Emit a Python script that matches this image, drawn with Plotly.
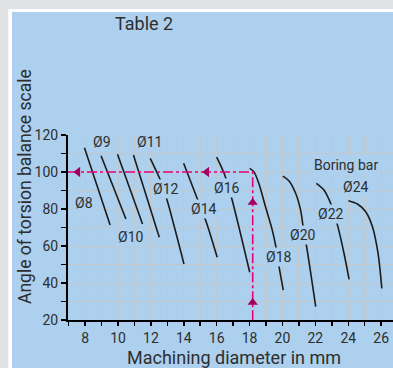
import plotly.graph_objects as go

# ---- data ----
d8_x = [7.96, 9.52]
d8_y = [113.1, 71.4]
d9_x = [8.97, 10.48]
d9_y = [108.8, 74.6]
d10_x = [9.97, 11.49]
d10_y = [109.6, 71.9]
d11_x = [10.94, 12.51]
d11_y = [109.2, 64.7]
d12_x = [11.96, 12.6, 13.0, 14.01]
d12_y = [107.4, 95.1, 84.3, 50.3]
d14_x = [13.99, 14.81, 15.36, 16.03]
d14_y = [104.7, 85.8, 73.1, 53.9]
d16_x = [16.0, 16.49, 16.94, 18.01]
d16_y = [108.0, 98.4, 84.9, 45.8]
d18_x = [18.01, 18.26, 18.56, 18.97, 19.38, 19.58, 19.82, 20.05]
d18_y = [102.0, 100.2, 93.9, 81.2, 68.6, 60.5, 47.4, 36.2]
d20_x = [20.02, 20.39, 20.80, 21.10, 21.24, 21.47, 21.75, 22.02]
d20_y = [97.8, 95.3, 88.5, 79.5, 71.4, 59.6, 43.4, 27.2]
d22_x = [22.06, 22.52, 22.97, 23.34, 23.74, 24.05]
d22_y = [93.9, 90.3, 82.2, 71.4, 56.1, 42.0]
d24_x = [24.01, 24.56, 25.06, 25.47, 25.81, 26.04]
d24_y = [84.5, 82.7, 78.5, 70.4, 56.1, 37.1]

label_text = ["Ø8", "Ø9", "Ø10", "Ø11", "Ø12", "Ø14", "Ø16", "Ø18", "Ø20", "Ø22", "Ø24", "Boring bar"]
label_x = [7.92, 9.0, 10.82, 11.89, 12.91, 15.23, 16.61, 19.79, 21.25, 22.94, 24.5, 23.89]
label_y = [83.4, 116.4, 65.0, 116.4, 90.6, 79.8, 91.4, 53.9, 66.0, 77.1, 92.1, 103.8]

guide_x = 18.19
guide_y = 100
arrow_left_x = [7.56, 15.40]
arrow_up_y = [83.5, 29.5]

x_range = [6.96, 26.72]
y_range = [20, 120]
x_tick_vals = [8, 10, 12, 14, 16, 18, 20, 22, 24, 26]
y_tick_vals = [20, 40, 60, 80, 100, 120]

BLUE = "#acd0ed"
GREY = "#e0e1e2"
GRID = "#c3c7ca"
MAG = "#e6007e"
ARROW = "#a3005e"
INK = "#1c1c1c"
TXT = "#2e2e2e"
FONT = "Roboto"

W, H = 393, 368
L, R, T, B = 68, 0, 135, 48
PW, PH = W - L - R, H - T - B


def px_x(px):
    return (px - L) / PW


def px_y(py):
    return (H - B - py) / PH


fig = go.Figure()

curves = [(d8_x, d8_y), (d9_x, d9_y), (d10_x, d10_y), (d11_x, d11_y),
          (d12_x, d12_y), (d14_x, d14_y), (d16_x, d16_y), (d18_x, d18_y),
          (d20_x, d20_y), (d22_x, d22_y), (d24_x, d24_y)]
for cx, cy in curves:
    fig.add_trace(go.Scatter(x=cx, y=cy, mode="lines",
                             line=dict(color=INK, width=1.6, shape="spline", smoothing=0.8),
                             hoverinfo="skip", showlegend=False))

# guide lines
fig.add_trace(go.Scatter(x=[x_range[0], guide_x, guide_x], y=[guide_y, guide_y, y_range[0]],
                         mode="lines", line=dict(color=MAG, width=1.6, dash="10px,3px,3px,3px"),
                         hoverinfo="skip", showlegend=False))
fig.add_trace(go.Scatter(x=arrow_left_x, y=[guide_y] * len(arrow_left_x), mode="markers",
                         marker=dict(symbol="triangle-left", size=9, color=ARROW, line=dict(width=0)),
                         hoverinfo="skip", showlegend=False))
fig.add_trace(go.Scatter(x=[guide_x] * len(arrow_up_y), y=arrow_up_y, mode="markers",
                         marker=dict(symbol="triangle-up", size=9, color=ARROW, line=dict(width=0)),
                         hoverinfo="skip", showlegend=False))

annotations = []
for t, x, y in zip(label_text, label_x, label_y):
    annotations.append(dict(x=x, y=y, xref="x", yref="y", text=t, showarrow=False,
                            font=dict(family=FONT, size=14, color=TXT),
                            bgcolor=BLUE, borderpad=1))

annotations += [
    dict(x=px_x(144), y=px_y(24), xref="paper", yref="paper", text="Table 2", showarrow=False,
         font=dict(family=FONT, size=18, color=TXT), xanchor="center", yanchor="middle"),
    dict(x=px_x(234), y=px_y(357), xref="paper", yref="paper", text="Machining diameter in mm",
         showarrow=False, font=dict(family=FONT, size=18, color=TXT), xanchor="center", yanchor="middle"),
    dict(x=px_x(25), y=px_y(187), xref="paper", yref="paper", text="Angle of torsion balance scale",
         showarrow=False, textangle=-90, font=dict(family=FONT, size=17.5, color=TXT),
         xanchor="center", yanchor="middle"),
]

shapes = [
    dict(type="rect", xref="paper", yref="paper", layer="below",
         x0=px_x(8.3), x1=px_x(W + 20), y0=px_y(H + 20), y1=px_y(9),
         fillcolor="white", line=dict(width=0)),
    dict(type="rect", xref="paper", yref="paper", layer="below",
         x0=px_x(12), x1=px_x(W + 20), y0=px_y(H + 20), y1=px_y(12),
         fillcolor=BLUE, line=dict(width=0)),
]

fig.update_layout(
    width=W, height=H,
    margin=dict(l=L, r=R, t=T, b=B, pad=0),
    paper_bgcolor=GREY, plot_bgcolor=BLUE,
    showlegend=False,
    annotations=annotations, shapes=shapes,
    font=dict(family=FONT, size=14, color=TXT),
    hovermode=False,
)
fig.update_xaxes(range=x_range, tickmode="array", tickvals=x_tick_vals,
                 showline=True, linecolor="black", linewidth=2,
                 ticks="outside", ticklen=4, tickcolor="black", tickwidth=1.5,
                 showgrid=True, gridcolor=GRID, gridwidth=1, zeroline=False,
                 tickfont=dict(family=FONT, size=14, color=TXT),
                 minor=dict(tickmode="linear", tick0=0, dtick=1, ticks="outside", ticklen=4,
                            tickcolor="black", tickwidth=1.5, showgrid=True, gridcolor=GRID, gridwidth=1))
fig.update_yaxes(range=y_range, tickmode="array", tickvals=y_tick_vals,
                 showline=True, linecolor="black", linewidth=2,
                 ticks="outside", ticklen=5, tickcolor="black", tickwidth=1.5,
                 showgrid=True, gridcolor=GRID, gridwidth=1, zeroline=False,
                 tickfont=dict(family=FONT, size=14, color=TXT),
                 minor=dict(tickmode="linear", tick0=0, dtick=10, ticks="outside", ticklen=5,
                            tickcolor="black", tickwidth=1.5, showgrid=True, gridcolor=GRID, gridwidth=1))

# place the figure flush with the window (no default 8px body margin, no scrollbars)
fig.write_html("out.html",
               config={"displayModeBar": False, "staticPlot": True},
               post_script="document.body.style.margin='0';document.body.style.overflow='hidden';")
